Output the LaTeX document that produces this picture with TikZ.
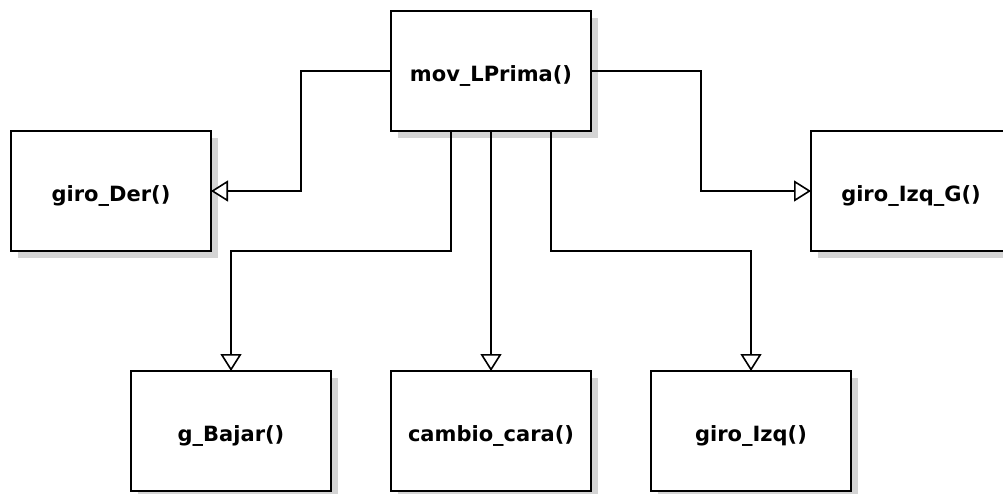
\documentclass[tikz,border=0pt]{standalone}
\usepackage{fontspec}
\setmainfont{DejaVu Sans}
\usetikzlibrary{arrows.meta,shadows}
\tikzset{
  fnbox/.style={draw=black, line width=2pt, fill=white, minimum width=200pt, minimum height=120pt,
    inner sep=0pt, outer sep=0pt, text height=20pt, text depth=0pt, font=\fontsize{21}{25}\selectfont\bfseries,
    drop shadow={shadow xshift=7pt, shadow yshift=-7pt, fill=black!17, opacity=1}},
  conn/.style={draw=black, line width=1.6pt, -{Triangle[length=17pt,width=21pt,fill=white,line width=1.6pt]}}
}
\begin{document}
\begin{tikzpicture}[x=1pt,y=-1pt]
\clip (0,0) rectangle (1003,493);
\fill[white] (0,0) rectangle (1003,493);
\node[fnbox] (top) at (491,71) {mov\_LPrima()};
\node[fnbox] (der) at (111,191) {giro\_Der()};
\node[fnbox] (izqG) at (911,191) {giro\_Izq\_G()};
\node[fnbox] (bajar) at (231,431) {g\_Bajar()};
\node[fnbox] (cara) at (491,431) {cambio\_cara()};
\node[fnbox] (izq) at (751,431) {giro\_Izq()};
\draw[conn] (top.west) -- ++(-90,0) |- (der.east);
\draw[conn] (top.east) -- ++(110,0) |- (izqG.west);
\draw[conn] ([xshift=-40pt]top.south) -- ++(0,120) -| (bajar.north);
\draw[conn] (top.south) -- (cara.north);
\draw[conn] ([xshift=60pt]top.south) -- ++(0,120) -| (izq.north);
\end{tikzpicture}
\end{document}
